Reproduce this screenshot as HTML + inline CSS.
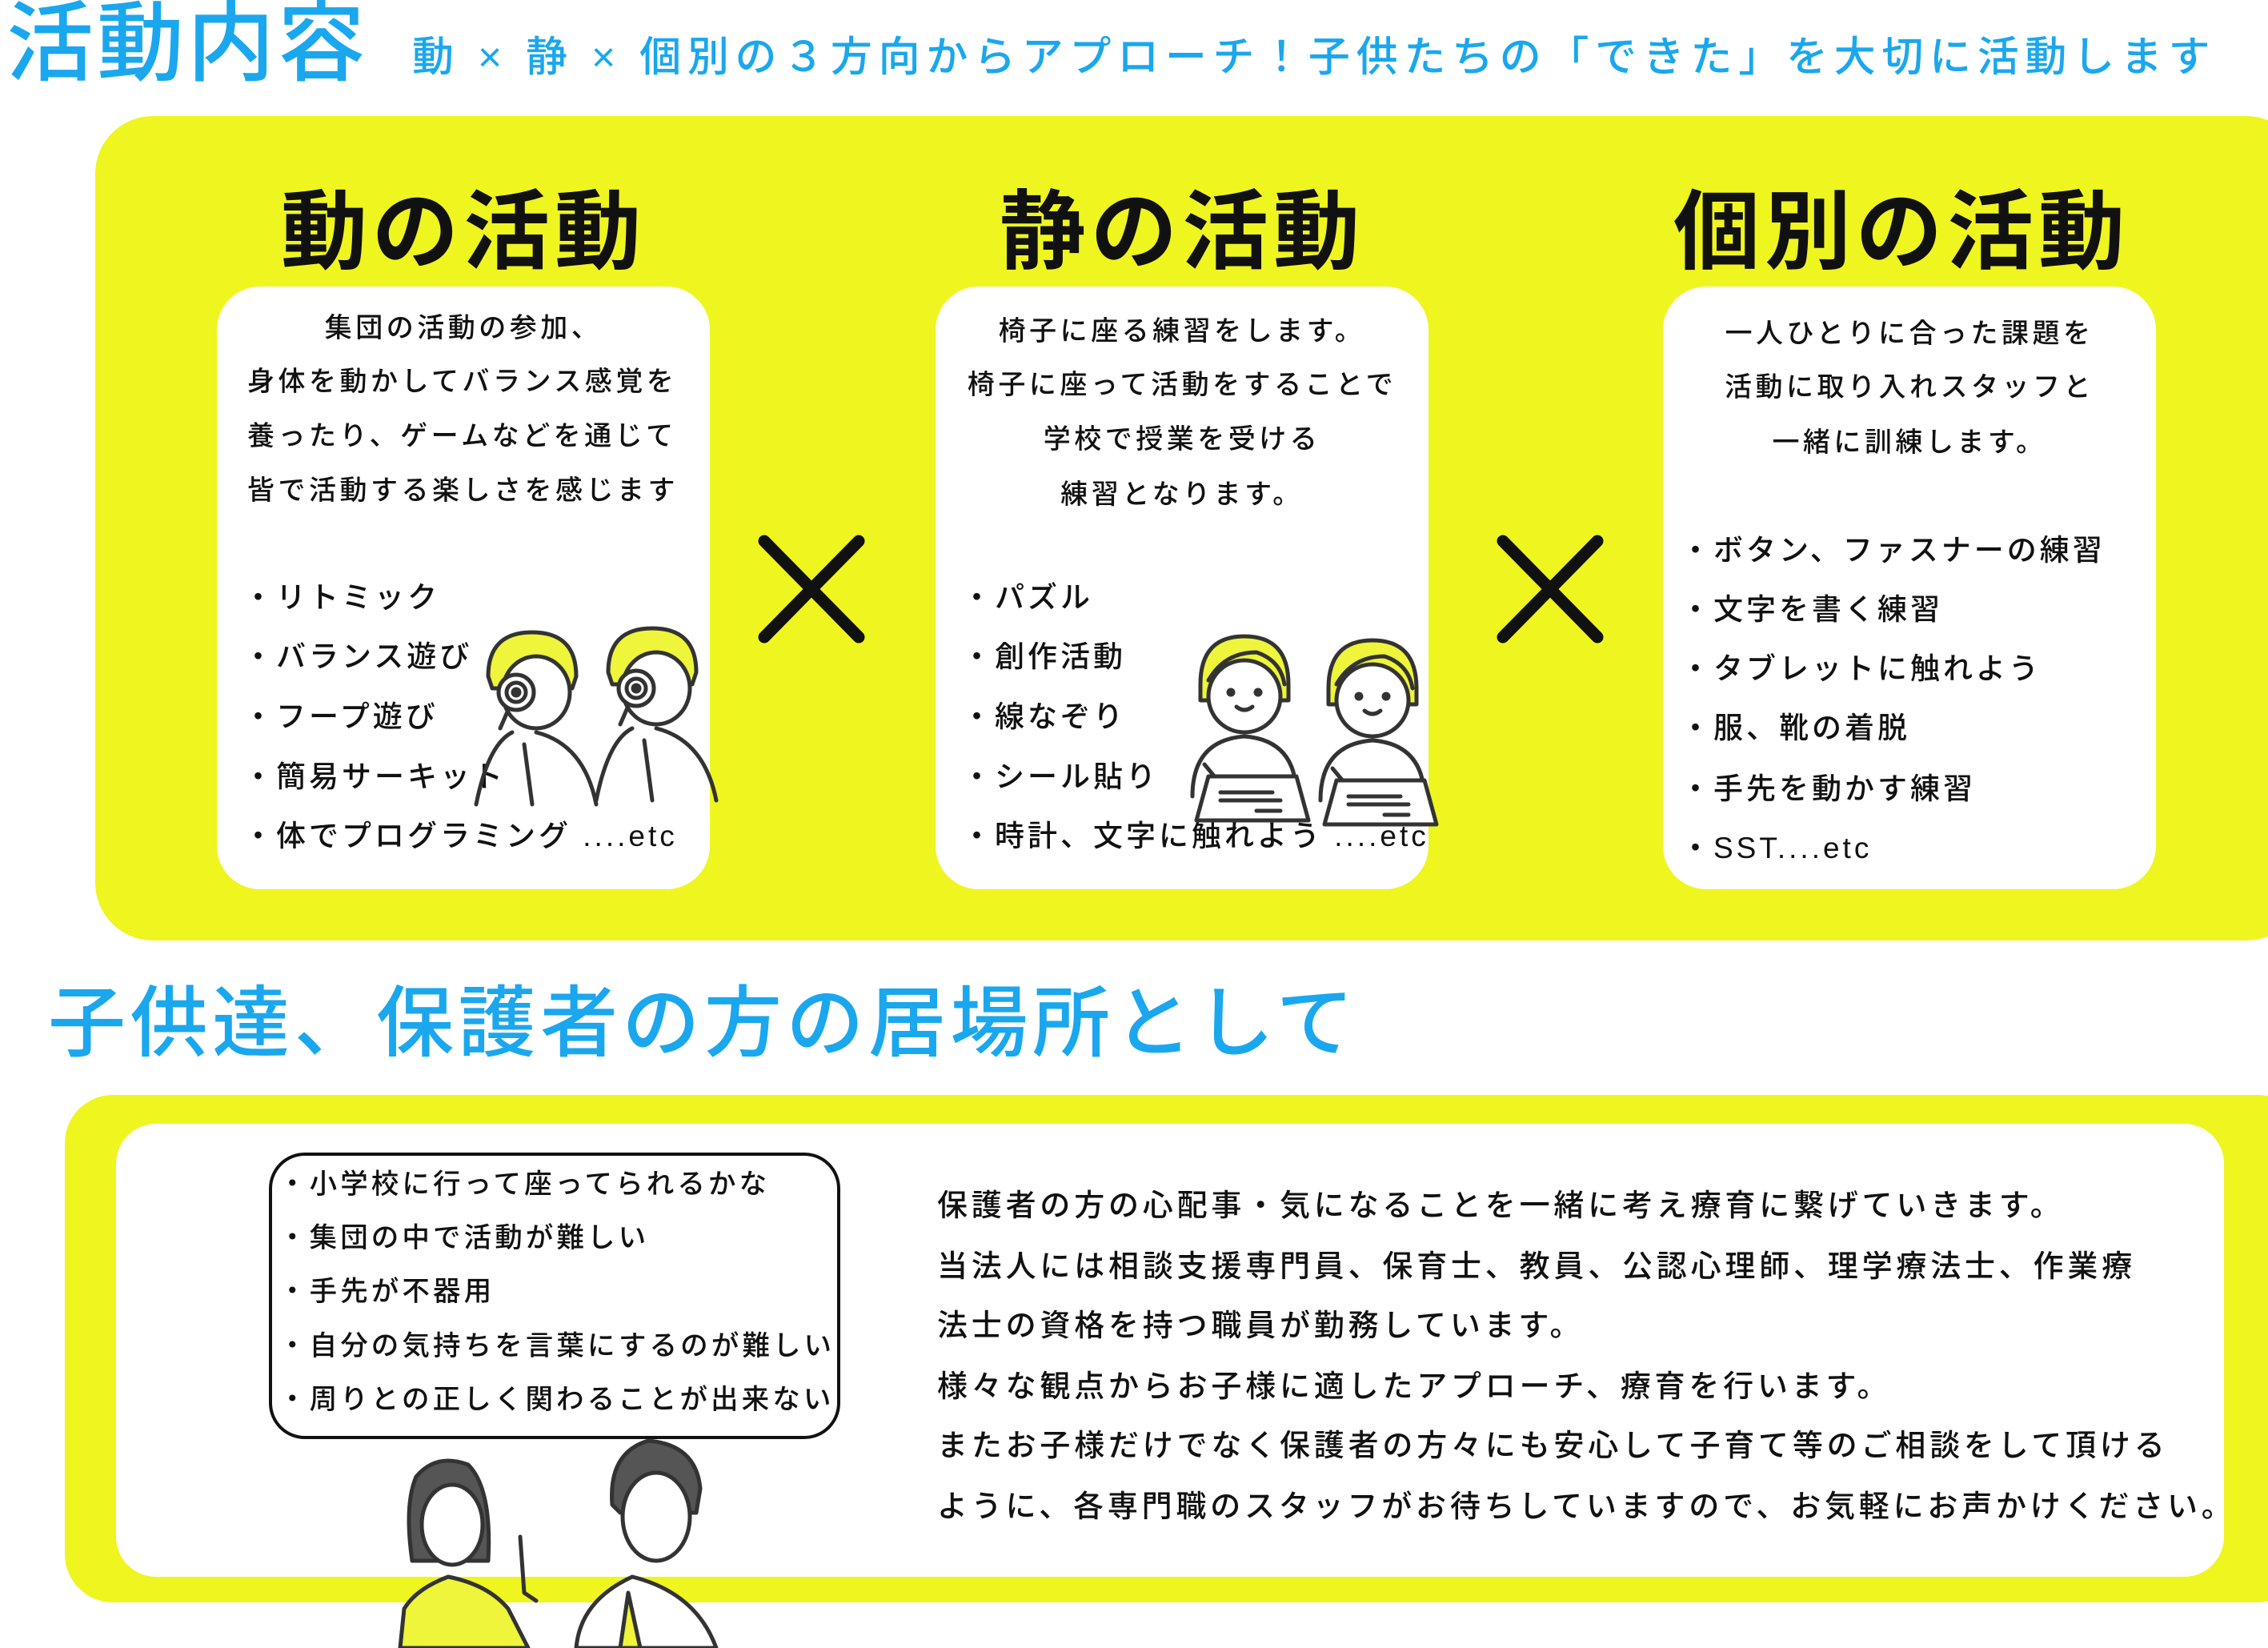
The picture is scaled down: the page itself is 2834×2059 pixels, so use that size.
<!DOCTYPE html>
<html><head><meta charset="utf-8"><style>
*{margin:0;padding:0;box-sizing:border-box}
body{width:2834px;height:2059px;background:#fff;position:relative;overflow:hidden;font-family:"Liberation Sans","Noto Sans CJK JP",sans-serif;color:#111}
.a{position:absolute;white-space:nowrap}
.blue{color:#1aa7ee}
.panel{position:absolute;background:#eff51f}
.card{position:absolute;background:#fff;border-radius:54px}
.h{position:absolute;font-weight:700;font-size:108px;letter-spacing:6px;text-align:center;line-height:1}
.t{position:absolute;font-size:34px;letter-spacing:4.5px;line-height:1;font-weight:500}
.b{position:absolute;font-size:37px;letter-spacing:4px;line-height:1;font-weight:500}
.s{position:absolute;font-size:34.5px;letter-spacing:4.1px;line-height:1;font-weight:500}
.r{position:absolute;font-size:38px;letter-spacing:4.8px;line-height:1;font-weight:500}
</style></head><body>
<div class="a blue" style="left:8px;top:-4px;font-size:109px;line-height:1.1;font-weight:500;letter-spacing:4px">活動内容</div>
<div class="a blue" style="left:515px;top:46px;font-size:52px;line-height:1;font-weight:500;letter-spacing:7.7px">動 × 静 × 個別の３方向からアプローチ！子供たちの「できた」を大切に活動します</div>

<div class="panel" style="left:119px;top:145px;width:2760px;height:1030px;border-radius:72px"></div>
<div class="h" style="left:271px;width:616px;top:236px">動の活動</div>
<div class="h" style="left:1169px;width:616px;top:236px">静の活動</div>
<div class="h" style="left:2030px;width:692px;top:236px">個別の活動</div>

<div class="card" style="left:271px;top:358px;width:616px;height:753px"></div>
<div class="card" style="left:1169px;top:358px;width:616px;height:753px"></div>
<div class="card" style="left:2078px;top:358px;width:616px;height:753px"></div>

<svg class="a" style="left:0;top:0" width="2834" height="2059">
<g stroke="#111" stroke-width="15" stroke-linecap="round">
<line x1="955" y1="676" x2="1073" y2="796"/><line x1="1073" y1="676" x2="955" y2="796"/>
<line x1="1878" y1="676" x2="1996" y2="796"/><line x1="1996" y1="676" x2="1878" y2="796"/>
</g>
</svg>

<!-- card 1 -->
<div class="t" style="left:271px;width:616px;text-align:center;top:393px">集団の活動の参加、</div>
<div class="t" style="left:309px;top:460px">身体を動かしてバランス感覚を</div>
<div class="t" style="left:309px;top:528px">養ったり、ゲームなどを通じて</div>
<div class="t" style="left:309px;top:596px">皆で活動する楽しさを感じます</div>
<div class="b" style="left:304px;top:728px">・リトミック</div>
<div class="b" style="left:304px;top:802px">・バランス遊び</div>
<div class="b" style="left:304px;top:877px">・フープ遊び</div>
<div class="b" style="left:304px;top:952px">・簡易サーキット</div>
<div class="b" style="left:304px;top:1026px">・体でプログラミング ....etc</div>

<!-- card 2 -->
<div class="t" style="left:1169px;width:616px;text-align:center;top:397px">椅子に座る練習をします。</div>
<div class="t" style="left:1169px;width:616px;text-align:center;top:464px">椅子に座って活動をすることで</div>
<div class="t" style="left:1169px;width:616px;text-align:center;top:532px">学校で授業を受ける</div>
<div class="t" style="left:1169px;width:616px;text-align:center;top:601px">練習となります。</div>
<div class="b" style="left:1202px;top:728px">・パズル</div>
<div class="b" style="left:1202px;top:802px">・創作活動</div>
<div class="b" style="left:1202px;top:877px">・線なぞり</div>
<div class="b" style="left:1202px;top:952px">・シール貼り</div>
<div class="b" style="left:1202px;top:1026px">・時計、文字に触れよう ....etc</div>

<!-- card 3 -->
<div class="t" style="left:2078px;width:616px;text-align:center;top:400px">一人ひとりに合った課題を</div>
<div class="t" style="left:2078px;width:616px;text-align:center;top:467px">活動に取り入れスタッフと</div>
<div class="t" style="left:2078px;width:616px;text-align:center;top:536px">一緒に訓練します。</div>
<div class="b" style="left:2100px;top:669px">・ボタン、ファスナーの練習</div>
<div class="b" style="left:2100px;top:743px">・文字を書く練習</div>
<div class="b" style="left:2100px;top:817px">・タブレットに触れよう</div>
<div class="b" style="left:2100px;top:891px">・服、靴の着脱</div>
<div class="b" style="left:2100px;top:967px">・手先を動かす練習</div>
<div class="b" style="left:2100px;top:1041px">・SST....etc</div>

<!-- illustrations -->
<svg class="a" style="left:0;top:0" width="2834" height="2059" fill="none" stroke="#333" stroke-width="5" stroke-linecap="round" stroke-linejoin="round">
<defs>
<g id="kid">
<path d="M0 60 Q0 0 55 0 Q110 0 110 60 L110 80 L0 80Z" fill="#eef53a"/>
<ellipse cx="55" cy="75" rx="45" ry="45" fill="#fff"/>
<path d="M10 55 Q30 20 70 20 Q100 30 105 60" fill="none"/>
<circle cx="38" cy="70" r="3" fill="#333"/><circle cx="72" cy="70" r="3" fill="#333"/>
<path d="M45 88 Q55 96 65 88"/>
<path d="M-10 200 Q-10 130 55 125 Q120 130 120 200"/>
<path d="M5 160 L30 190"/>
<path d="M10 175 L120 175 L135 230 L-5 230Z" fill="#fff"/>
<path d="M25 195 L90 195 M25 205 L100 205 M70 218 L100 218"/>
</g>
<g id="look">
<path d="M0 55 Q0 0 55 0 Q110 0 110 55 L105 70 L5 70Z" fill="#eef53a"/>
<ellipse cx="60" cy="75" rx="42" ry="45" fill="#fff"/>
<circle cx="35" cy="75" r="22" fill="#fff"/><circle cx="35" cy="75" r="12"/><circle cx="35" cy="75" r="4" fill="#333"/>
<path d="M25 97 L15 120"/>
<path d="M-15 215 Q0 140 30 125 M60 125 Q120 140 135 215"/>
<path d="M45 140 L55 215" stroke="#333"/>
</g>
</defs>
<use href="#look" x="610" y="790"/>
<use href="#look" x="760" y="785"/>
<use href="#kid" x="1500" y="795"/>
<use href="#kid" x="1660" y="800"/>
</svg>

<!-- second section -->
<div class="a blue" style="left:60px;top:1226px;font-size:97px;line-height:1.1;font-weight:500;letter-spacing:5.5px">子供達、保護者の方の居場所として</div>
<div class="panel" style="left:81px;top:1368px;width:2800px;height:634px;border-radius:60px"></div>
<div class="card" style="left:145px;top:1404px;width:2634px;height:566px;border-radius:50px"></div>
<div class="a" style="left:336px;top:1440px;width:714px;height:358px;border:4px solid #111;border-radius:45px;background:#fff"></div>
<div class="s" style="left:348px;top:1463px">・小学校に行って座ってられるかな</div>
<div class="s" style="left:348px;top:1530px">・集団の中で活動が難しい</div>
<div class="s" style="left:348px;top:1597px">・手先が不器用</div>
<div class="s" style="left:348px;top:1665px">・自分の気持ちを言葉にするのが難しい</div>
<div class="s" style="left:348px;top:1732px">・周りとの正しく関わることが出来ない</div>

<div class="r" style="left:1171px;top:1488px">保護者の方の心配事・気になることを一緒に考え療育に繋げていきます。</div>
<div class="r" style="left:1171px;top:1564px">当法人には相談支援専門員、保育士、教員、公認心理師、理学療法士、作業療</div>
<div class="r" style="left:1171px;top:1638px">法士の資格を持つ職員が勤務しています。</div>
<div class="r" style="left:1171px;top:1714px">様々な観点からお子様に適したアプローチ、療育を行います。</div>
<div class="r" style="left:1171px;top:1788px">またお子様だけでなく保護者の方々にも安心して子育て等のご相談をして頂ける</div>
<div class="r" style="left:1171px;top:1864px">ように、各専門職のスタッフがお待ちしていますので、お気軽にお声かけください。</div>

<svg class="a" style="left:0;top:0" width="2834" height="2059" stroke="#333" stroke-width="5" stroke-linecap="round" stroke-linejoin="round">
<path d="M515 1950 Q505 1880 520 1845 Q545 1815 585 1830 Q615 1860 610 1950Z" fill="#555"/>
<ellipse cx="565" cy="1905" rx="38" ry="50" fill="#fff"/>
<path d="M500 2059 L505 2010 Q520 1985 560 1970 Q610 1980 635 2010 L660 2059Z" fill="#eef53a"/>
<path d="M650 1920 L655 1990 L670 2000" fill="none"/>
<path d="M765 1880 Q760 1815 810 1800 Q870 1805 875 1860 L870 1890 L775 1890Z" fill="#555"/>
<ellipse cx="820" cy="1895" rx="42" ry="55" fill="#fff"/>
<path d="M720 2059 Q725 2000 790 1970 Q870 1990 895 2059Z" fill="#fff"/>
<path d="M785 1990 L775 2059 L800 2059Z" fill="#eef53a"/>
</svg>
</body></html>
